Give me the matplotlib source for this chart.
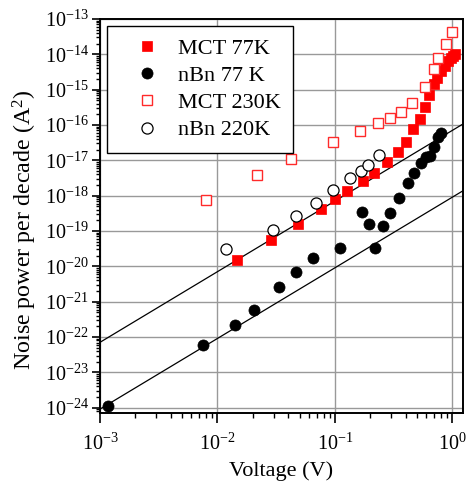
import numpy as np
import matplotlib
matplotlib.use("Agg")
import matplotlib.pyplot as plt

# ---- data ----
mct77_v = [0.0148, 0.0284, 0.0482, 0.0755, 0.1007, 0.1276, 0.1746, 0.2133, 0.2786, 0.341,
           0.402, 0.464, 0.526, 0.586, 0.637, 0.697, 0.741, 0.802, 0.859, 0.910, 0.966, 1.014, 1.054]
mct77_p = [1.48e-20, 5.47e-20, 1.58e-19, 4.17e-19, 7.96e-19, 1.39e-18, 2.67e-18, 4.38e-18, 8.87e-18,
           1.74e-17, 3.27e-17, 7.74e-17, 1.49e-16, 3.30e-16, 7.24e-16, 1.44e-15, 2.13e-15, 3.36e-15,
           4.66e-15, 6.45e-15, 8.11e-15, 9.25e-15, 1.02e-14]

nbn77_v = [0.00118, 0.0076, 0.01406, 0.0205, 0.0333, 0.0464, 0.0655, 0.1104, 0.1686, 0.1936, 0.2188,
           0.2566, 0.293, 0.354, 0.422, 0.474, 0.538, 0.592, 0.650, 0.698, 0.748, 0.802]
nbn77_p = [1.11e-24, 6.12e-23, 2.20e-22, 5.88e-22, 2.64e-21, 6.76e-21, 1.78e-20, 3.24e-20, 3.43e-19,
           1.55e-19, 3.26e-20, 1.39e-19, 3.30e-19, 8.37e-19, 2.36e-18, 4.35e-18, 8.69e-18, 1.26e-17,
           1.36e-17, 2.32e-17, 4.66e-17, 6.12e-17]

mct230_v = [0.00806, 0.0219, 0.0425, 0.0968, 0.1644, 0.2317, 0.2963, 0.368, 0.451, 0.578, 0.702,
            0.759, 0.875, 0.984]
mct230_p = [7.36e-19, 3.95e-18, 1.08e-17, 3.38e-17, 6.98e-17, 1.11e-16, 1.59e-16, 2.41e-16, 4.21e-16,
            1.20e-15, 3.95e-15, 7.85e-15, 2.02e-14, 4.37e-14]

nbn220_v = [0.0118, 0.0295, 0.0464, 0.0687, 0.0968, 0.134, 0.1663, 0.191, 0.2388]
nbn220_p = [3.20e-20, 1.07e-19, 2.64e-19, 6.32e-19, 1.43e-18, 3.13e-18, 5.12e-18, 7.24e-18, 1.39e-17]

# V^2 guide lines: P = coef * V^2
fit_v_range = [1e-3, 1.22]
fit_upper_coef = 7.08e-17
fit_lower_coef = 9.12e-19

labels = ["MCT 77K", "nBn 77 K", "MCT 230K", "nBn 220K"]

# ---- style ----
plt.rcParams["font.family"] = ["Liberation Serif", "DejaVu Serif"]
plt.rcParams["mathtext.fontset"] = "custom"
plt.rcParams["mathtext.rm"] = "Liberation Serif"
plt.rcParams["mathtext.it"] = "Liberation Serif:italic"
plt.rcParams["mathtext.bf"] = "Liberation Serif:bold"

fig = plt.figure(figsize=(4.66, 4.83), dpi=100)
ax = fig.add_axes([100 / 466, 70 / 483, 362.7 / 466, 394 / 483])
ax.set_xscale("log")
ax.set_yscale("log")
ax.set_xlim(1e-3, 10 ** 0.087)
ax.set_ylim(10 ** -24.15, 1e-13)

ax.grid(True, which="major", color="#999999", linewidth=1.0)
ax.set_axisbelow(True)

fv = np.array(fit_v_range)
ax.plot(fv, fit_upper_coef * fv ** 2, color="black", lw=0.9, zorder=2)
ax.plot(fv, fit_lower_coef * fv ** 2, color="black", lw=0.9, zorder=2)

ax.plot(mct77_v, mct77_p, ls="none", marker="s", ms=7.0, mfc="red", mec="red", mew=0.5,
        label=labels[0], zorder=3)
ax.plot(nbn77_v, nbn77_p, ls="none", marker="o", ms=8.0, mfc="black", mec="black", mew=0.5,
        label=labels[1], zorder=3)
ax.plot(mct230_v, mct230_p, ls="none", marker="s", ms=6.8, mfc="white", mec="#ff2a2a", mew=1.0,
        label=labels[2], zorder=3)
ax.plot(nbn220_v, nbn220_p, ls="none", marker="o", ms=8.0, mfc="white", mec="black", mew=0.9,
        label=labels[3], zorder=3)

for s in ax.spines.values():
    s.set_linewidth(1.4)

ax.tick_params(which="major", direction="out", width=1.2, labelsize=14.5)
ax.tick_params(which="minor", direction="out", width=1.0)
ax.tick_params(axis="x", which="major", length=7, pad=7.5)
ax.tick_params(axis="x", which="minor", length=3.5)
ax.tick_params(axis="y", which="major", length=6, pad=2)
ax.tick_params(axis="y", which="minor", length=3.2)
ax.yaxis.set_major_locator(matplotlib.ticker.LogLocator(base=10, numticks=20))
ax.yaxis.set_minor_locator(matplotlib.ticker.LogLocator(base=10, subs=np.arange(2, 10), numticks=20))
ax.yaxis.set_minor_formatter(matplotlib.ticker.NullFormatter())

ax.set_xlabel("Voltage (V)", fontsize=16, labelpad=5)
ax.set_ylabel("Noise power per decade (A$^2$)", fontsize=17.3, labelpad=4, y=0.466)

leg = ax.legend(loc="upper left", fontsize=16, frameon=True, fancybox=False, framealpha=1,
                edgecolor="black", borderaxespad=0.3, borderpad=0.56, handlelength=2.55,
                handletextpad=0.1, labelspacing=0.30, numpoints=1)
leg.get_frame().set_linewidth(1.0)

fig.savefig("out.png", dpi=100)
